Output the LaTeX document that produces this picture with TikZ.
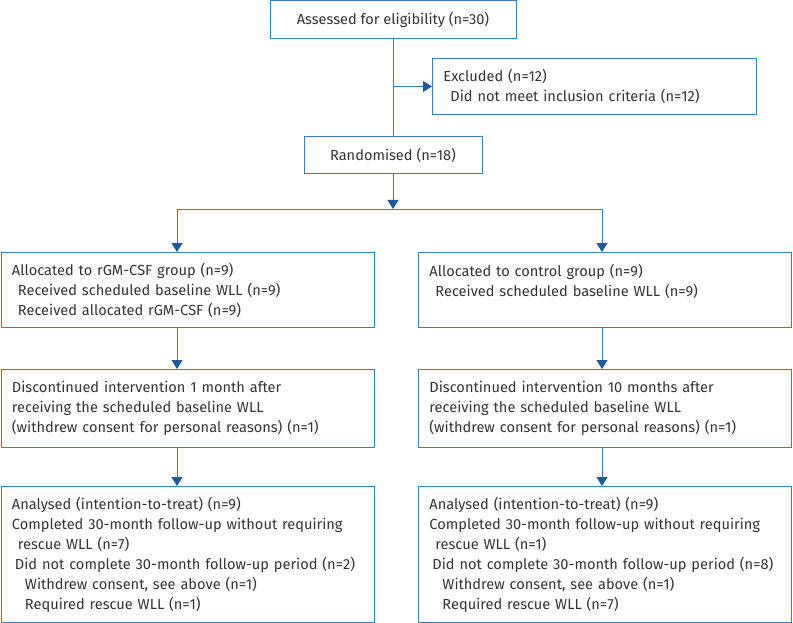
\documentclass[tikz,border=0pt]{standalone}
\usepackage{fontspec}
\setmainfont{Fira Sans}
\usepackage{xcolor}
\usetikzlibrary{arrows.meta,positioning,calc}
\definecolor{flowblue}{HTML}{3F7BB6}
\definecolor{tipblue}{HTML}{1D5A98}
\definecolor{textgrey}{HTML}{333333}
\newcommand{\ind}[1]{\hspace*{#1pt}}

\begin{document}
\begin{tikzpicture}[x=1pt,y=-1pt,
  box/.style={draw=flowblue, line width=0.9pt, anchor=north west, text=textgrey,
    align=left, inner xsep=11pt, inner ysep=0pt, font=\fontsize{14.6}{20}\selectfont},
  cbox/.style={box, align=center, anchor=north},
  link/.style={draw=flowblue, line width=0.9pt},
  flow/.style={link, -{Triangle[width=11pt,length=9pt,color=tipblue]}}]
  \useasboundingbox (0,0) rectangle (793,623);

  % top of the chart
  \node[cbox, minimum width=246pt, minimum height=37.5pt] (assess) at (393,0.5)
    {Assessed for eligibility (n=30)};
  \node[box, text width=302pt, minimum height=56pt] (excl) at (432,58)
    {Excluded (n=12)\\ \ind{7}Did not meet inclusion criteria (n=12)};
  \node[cbox, minimum width=178pt, minimum height=37pt] (rand) at (393,136)
    {Randomised (n=18)};

  % allocation
  \node[box, text width=351pt, minimum height=75pt] (allocA) at (0.5,252)
    {Allocated to rGM-CSF group (n=9)\\
     \ind{6}Received scheduled baseline WLL (n=9)\\
     \ind{6}Received allocated rGM-CSF (n=9)};
  \node[box, text width=351pt, minimum height=75pt] (allocB) at (418,252)
    {Allocated to control group (n=9)\\
     \ind{6}Received scheduled baseline WLL (n=9)\\ \mbox{}};

  % follow-up
  \node[box, text width=351pt, minimum height=78pt] (discA) at (0.5,369)
    {Discontinued intervention 1 month after\\
     receiving the scheduled baseline WLL\\
     (withdrew consent for personal reasons) (n=1)};
  \node[box, text width=351pt, minimum height=78pt] (discB) at (418,369)
    {Discontinued intervention 10 months after\\
     receiving the scheduled baseline WLL\\
     (withdrew consent for personal reasons) (n=1)};

  % analysis
  \node[box, text width=351pt, minimum height=136pt] (anaA) at (0.5,486)
    {Analysed (intention-to-treat) (n=9)\\
     Completed 30-month follow-up without requiring\\
     \ind{6}rescue WLL (n=7)\\
     \ind{3}Did not complete 30-month follow-up period (n=2)\\
     \ind{13}Withdrew consent, see above (n=1)\\
     \ind{13}Required rescue WLL (n=1)};
  \node[box, text width=351pt, minimum height=136pt] (anaB) at (418,486)
    {Analysed (intention-to-treat) (n=9)\\
     Completed 30-month follow-up without requiring\\
     \ind{6}rescue WLL (n=1)\\
     \ind{3}Did not complete 30-month follow-up period (n=8)\\
     \ind{13}Withdrew consent, see above (n=1)\\
     \ind{13}Required rescue WLL (n=7)};

  % connectors
  \coordinate (split) at (393,209);
  \coordinate (splitA) at (177,209);
  \coordinate (splitB) at (602,209);
  \draw[link] (assess) -- (rand);
  \draw[flow] (excl.west -| assess.south) -- (excl.west);
  \draw[flow] (rand) -- (split);
  \draw[link] (splitA) -- (splitB);
  \draw[flow] (splitA) -- (splitA |- allocA.north);
  \draw[flow] (splitB) -- (splitB |- allocB.north);
  \draw[flow] (splitA |- allocA.south) -- (splitA |- discA.north);
  \draw[flow] (splitB |- allocB.south) -- (splitB |- discB.north);
  \draw[flow] (splitA |- discA.south) -- (splitA |- anaA.north);
  \draw[flow] (splitB |- discB.south) -- (splitB |- anaB.north);
\end{tikzpicture}
\end{document}
